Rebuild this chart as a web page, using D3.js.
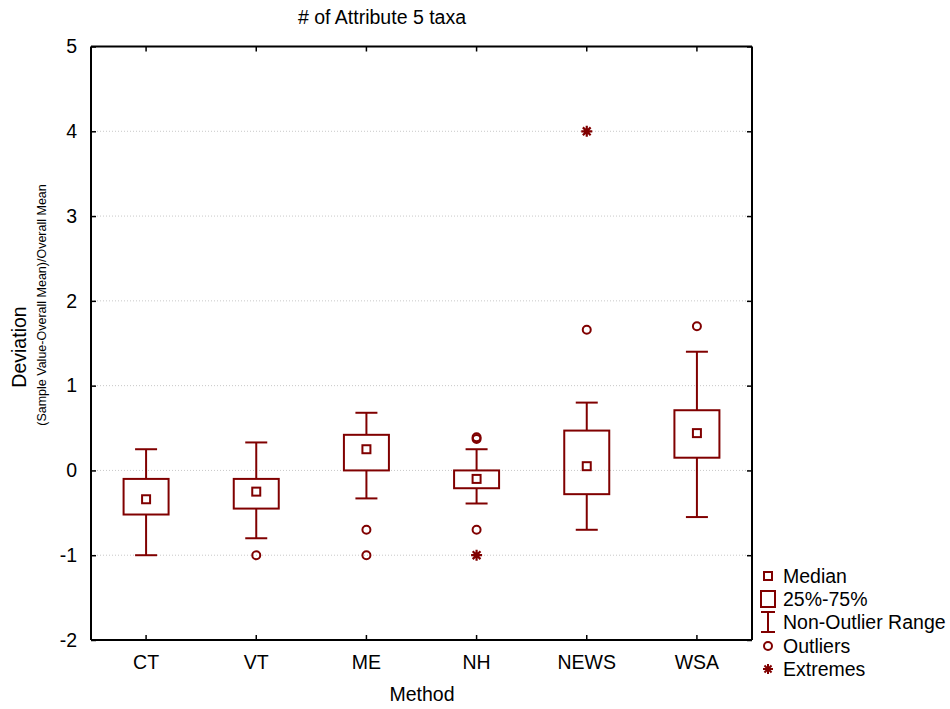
<!DOCTYPE html>
<html><head><meta charset="utf-8">
<script src="https://cdn.jsdelivr.net/npm/d3@7"></script>
<style>
html,body{margin:0;padding:0;background:#fff;}
svg{display:block;font-family:"Liberation Sans",Arial,sans-serif;}
</style></head>
<body>
<svg id="chart" width="950" height="709"></svg>
<script>
const categories = ["CT","VT","ME","NH","NEWS","WSA"];
const medians  = [-0.34, -0.25, 0.25, -0.10, 0.05, 0.44];
const q1       = [-0.52, -0.45, 0.00, -0.21, -0.28, 0.15];
const q3       = [-0.10, -0.10, 0.42, 0.00, 0.47, 0.71];
const whiskerLow  = [-1.00, -0.80, -0.33, -0.39, -0.70, -0.55];
const whiskerHigh = [0.25, 0.33, 0.68, 0.25, 0.80, 1.40];
const outliers = [[], [-1.0], [-0.70, -1.0], [0.37, 0.39, -0.70], [1.66], [1.70]];
const extremes = [[], [], [], [-1.0], [4.0], []];
const yTicks = [-2,-1,0,1,2,3,4,5];
const legendLabels = ["Median","25%-75%","Non-Outlier Range","Outliers","Extremes"];

const color = "#800000";
const svg = d3.select("#chart");
const pLeft = 91, pRight = 752, pTop = 46.5, pBottom = 640;
const fs = 19.5;

const x = d3.scaleBand().domain(categories).range([pLeft, pRight]).padding(0);
const y = d3.scaleLinear().domain([-2, 5]).range([pBottom, pTop]);
const cx = c => x(c) + x.bandwidth() / 2;

// grid
svg.append("g").selectAll("line").data(yTicks.filter(t => t > -2 && t < 5)).join("line")
  .attr("x1", pLeft).attr("x2", pRight).attr("y1", d => y(d)).attr("y2", d => y(d))
  .attr("stroke", "#c8c8c8").attr("stroke-width", 1).attr("stroke-dasharray", "1,2");

// axes
const gl = svg.append("g").attr("transform", `translate(${pLeft},0)`)
  .call(d3.axisLeft(y).tickValues(yTicks).tickSize(-5).tickPadding(14).tickFormat(d => String(d)));
const gr = svg.append("g").attr("transform", `translate(${pRight},0)`)
  .call(d3.axisRight(y).tickValues(yTicks).tickSize(-5).tickFormat(""));
const gb = svg.append("g").attr("transform", `translate(0,${pBottom})`)
  .call(d3.axisBottom(x).tickSize(-5).tickPadding(15));
const gt = svg.append("g").attr("transform", `translate(0,${pTop})`)
  .call(d3.axisTop(x).tickSize(-5).tickFormat(""));
[gl, gr, gb, gt].forEach(g => {
  g.select(".domain").attr("stroke", "#000").attr("stroke-width", 2);
  g.selectAll(".tick line").attr("stroke", "#000").attr("stroke-width", 1.5);
  g.selectAll(".tick text").attr("fill", "#000").attr("font-size", fs)
    .attr("font-family", "Liberation Sans, Arial, sans-serif");
});
gl.select(".domain").attr("d", `M0,${pTop}V${pBottom}`);
gr.select(".domain").attr("d", `M0,${pTop}V${pBottom}`);
gb.select(".domain").attr("d", `M${pLeft},0H${pRight}`);
gt.select(".domain").attr("d", `M${pLeft},0H${pRight}`);

function star(X, Y, r) {
  const a = r * Math.SQRT1_2;
  return `M${X-r},${Y}H${X+r}M${X},${Y-r}V${Y+r}M${X-a},${Y-a}L${X+a},${Y+a}M${X-a},${Y+a}L${X+a},${Y-a}`;
}

// boxes
const data = categories.map((c, i) => ({c, i}));
const g = svg.append("g").attr("fill", "none").attr("stroke", color).attr("stroke-width", 2);
const boxW = 45, capW = 22, medS = 8;
data.forEach(({c, i}) => {
  const X = cx(c);
  g.append("line").attr("x1", X).attr("x2", X).attr("y1", y(whiskerHigh[i])).attr("y2", y(q3[i]));
  g.append("line").attr("x1", X).attr("x2", X).attr("y1", y(q1[i])).attr("y2", y(whiskerLow[i]));
  g.append("line").attr("x1", X - capW/2).attr("x2", X + capW/2).attr("y1", y(whiskerHigh[i])).attr("y2", y(whiskerHigh[i]));
  g.append("line").attr("x1", X - capW/2).attr("x2", X + capW/2).attr("y1", y(whiskerLow[i])).attr("y2", y(whiskerLow[i]));
  g.append("rect").attr("x", X - boxW/2).attr("y", y(q3[i])).attr("width", boxW).attr("height", y(q1[i]) - y(q3[i]));
  g.append("rect").attr("x", X - medS/2).attr("y", y(medians[i]) - medS/2).attr("width", medS).attr("height", medS);
  outliers[i].forEach(v => g.append("circle").attr("cx", X).attr("cy", y(v)).attr("r", 4));
  extremes[i].forEach(v => g.append("path").attr("d", star(X, y(v), 5.5)).attr("stroke-width", 2.2));
});

// titles
svg.append("text").attr("x", 382).attr("y", 24).attr("text-anchor", "middle")
  .attr("font-size", fs).text("# of Attribute 5 taxa");
svg.append("text").attr("x", 422).attr("y", 701).attr("text-anchor", "middle")
  .attr("font-size", fs).text("Method");
svg.append("text").attr("transform", "translate(26,347) rotate(-90)").attr("text-anchor", "middle")
  .attr("font-size", fs).text("Deviation");
svg.append("text").attr("transform", "translate(46,305) rotate(-90)").attr("text-anchor", "middle")
  .attr("font-size", 12.5).text("(Sample Value-Overall Mean)/Overall Mean");

// legend
const legY = [576, 599, 622, 646, 669];
const lg = svg.append("g");
legendLabels.forEach((t, k) => {
  lg.append("text").attr("x", 783).attr("y", legY[k]).attr("dy", "0.35em")
    .attr("font-size", fs).text(t);
});
const lm = lg.append("g").attr("fill", "none").attr("stroke", color).attr("stroke-width", 2);
const mx = 768;
lm.append("rect").attr("x", mx - 4).attr("y", legY[0] - 4).attr("width", 8).attr("height", 8);
lm.append("rect").attr("x", mx - 7).attr("y", legY[1] - 8).attr("width", 14).attr("height", 16);
lm.append("path").attr("d", `M${mx-7},${legY[2]-10}H${mx+7}M${mx},${legY[2]-10}V${legY[2]+10}M${mx-7},${legY[2]+10}H${mx+7}`);
lm.append("circle").attr("cx", mx).attr("cy", legY[3]).attr("r", 4);
lm.append("path").attr("d", star(mx, legY[4], 5));
</script>
</body></html>
